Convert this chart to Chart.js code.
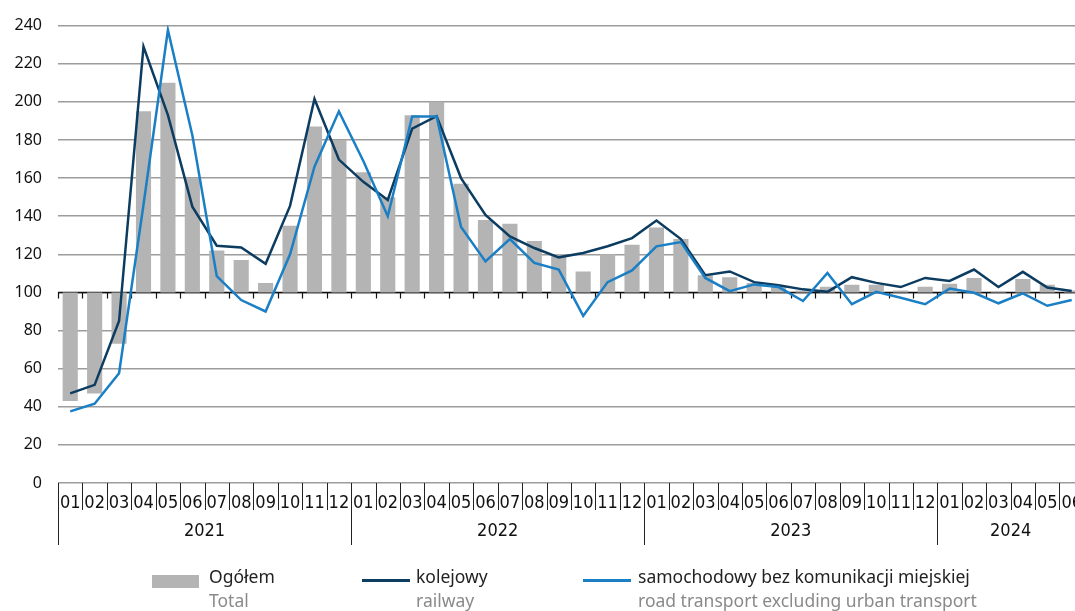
<!DOCTYPE html>
<html>
<head>
<meta charset="utf-8">
<script src="https://cdn.jsdelivr.net/npm/chart.js@4"></script>
<style>
  html, body { margin: 0; padding: 0; background: #fff; overflow: hidden; }
  #wrap { position: relative; width: 1084px; height: 611px; }
  .leg { position: absolute; top: 564px; font-family: "Noto Sans", sans-serif; font-size: 17.5px; line-height: 24px; color: #222; white-space: nowrap; }
  .leg .en { color: #8a8a8a; }
  .sw { position: absolute; }
</style>
</head>
<body>
<div id="wrap">
  <canvas id="chart" width="1084" height="611"></canvas>
  <div class="sw" style="left:152px;top:575px;width:47px;height:13px;background:#b4b4b4"></div>
  <div class="leg" style="left:209px"><div>Ogółem</div><div class="en">Total</div></div>
  <div class="sw" style="left:362px;top:579px;width:48px;height:3px;background:#0d3c61"></div>
  <div class="leg" style="left:416px"><div>kolejowy</div><div class="en">railway</div></div>
  <div class="sw" style="left:583px;top:579px;width:48px;height:3px;background:#1a7fc5"></div>
  <div class="leg" style="left:638px"><div>samochodowy bez komunikacji miejskiej</div><div class="en">road transport excluding urban transport</div></div>
</div>
<script>
const months = ['01','02','03','04','05','06','07','08','09','10','11','12',
  '01','02','03','04','05','06','07','08','09','10','11','12',
  '01','02','03','04','05','06','07','08','09','10','11','12',
  '01','02','03','04','05','06'];
const years = ['2021', '2022', '2023', '2024'];

const ogolem = [43, 47, 73, 195, 210, 160, 122, 117, 105, 135, 187, 180,
  163, 150, 193, 200, 157, 138, 136, 127, 120, 111, 120, 125,
  134, 128, 109, 108, 105, 103, 101, 103, 104, 104, 101, 103,
  104.5, 107.5, 100.4, 107, 104, 101];
const kolejowy = [47, 51.5, 85, 229, 193, 145, 124.5, 123.6, 115, 145.4, 201.5, 169.7,
  158, 148.5, 186, 192.5, 160, 140.7, 129.4, 123.3, 118.4, 120.7, 124.2, 128.5,
  137.7, 128, 109, 111, 105.4, 103.8, 101.6, 100.3, 108, 105, 102.8, 107.6,
  106, 112, 102.8, 110.8, 102.6, 100.8];
const samochodowy = [37.6, 41.6, 57.6, 146, 237.7, 182.5, 108.5, 96, 90, 120, 166, 195,
  169, 140, 192.3, 192.3, 134.3, 116.3, 128, 115.5, 112, 87.7, 105.4, 111.5,
  124.2, 126.4, 107.6, 100.7, 104.2, 102.8, 95.5, 110.2, 93.8, 100.3, 97.2, 93.8,
  102, 99.8, 94.3, 99.5, 93, 96];

const BASE = 100;
const narrow = '"Liberation Sans Narrow", "DejaVu Sans Condensed", sans-serif';

// baseline at 100, month/year separators and year labels
const axisExtras = {
  id: 'axisExtras',
  beforeDatasetsDraw(chart) {
    const { ctx, chartArea, scales: { x, y } } = chart;
    const half = (x.getPixelForValue(1) - x.getPixelForValue(0)) / 2;
    const y100 = y.getPixelForValue(BASE);
    ctx.save();
    ctx.strokeStyle = '#111';
    ctx.lineWidth = 1.5;
    ctx.beginPath();
    ctx.moveTo(chartArea.left, y100);
    ctx.lineTo(chartArea.right, y100);
    ctx.stroke();
    ctx.lineWidth = 1.2;
    ctx.beginPath();
    for (let i = 0; i <= months.length; i++) {
      const px = Math.round(x.getPixelForValue(i) - half) + 0.5;
      ctx.moveTo(px, y100);
      ctx.lineTo(px, y100 + 6);
    }
    ctx.stroke();
    ctx.restore();
  },
  afterDraw(chart) {
    const { ctx, chartArea, scales: { x } } = chart;
    const half = (x.getPixelForValue(1) - x.getPixelForValue(0)) / 2;
    const bottom = chartArea.bottom;
    ctx.save();
    ctx.strokeStyle = '#222';
    ctx.lineWidth = 1;
    ctx.beginPath();
    for (let i = 0; i <= months.length; i++) {
      const px = Math.round(x.getPixelForValue(i) - half) + 0.5;
      const len = (i % 12 === 0) ? 62 : 27;
      ctx.moveTo(px, bottom);
      ctx.lineTo(px, bottom + len);
    }
    ctx.stroke();
    ctx.fillStyle = '#111';
    ctx.font = '18px ' + narrow;
    ctx.textAlign = 'center';
    ctx.textBaseline = 'middle';
    years.forEach((yr, k) => {
      const first = k * 12;
      const last = Math.min(first + 11, months.length - 1);
      const cx = (x.getPixelForValue(first) + x.getPixelForValue(last)) / 2;
      ctx.fillText(yr, cx, bottom + 48);
    });
    ctx.restore();
  }
};

new Chart(document.getElementById('chart'), {
  data: {
    labels: months,
    datasets: [
      {
        type: 'line',
        label: 'kolejowy',
        data: kolejowy,
        borderColor: '#0d3c61',
        borderWidth: 2.5,
        pointRadius: 0,
        tension: 0,
        order: 1
      },
      {
        type: 'line',
        label: 'samochodowy bez komunikacji miejskiej',
        data: samochodowy,
        borderColor: '#1a7fc5',
        borderWidth: 2.5,
        pointRadius: 0,
        tension: 0,
        order: 0
      },
      {
        type: 'bar',
        label: 'Ogółem',
        data: ogolem.map(v => [BASE, v]),
        backgroundColor: '#b4b4b4',
        borderWidth: 0,
        categoryPercentage: 1,
        barPercentage: 0.62,
        order: 2
      }
    ]
  },
  options: {
    responsive: false,
    animation: false,
    layout: { padding: { top: 23, left: 0, right: 0, bottom: 0 } },
    plugins: {
      legend: { display: false },
      tooltip: { enabled: false }
    },
    scales: {
      x: {
        type: 'category',
        offset: true,
        grid: { display: false },
        border: { display: false },
        ticks: {
          autoSkip: false,
          maxRotation: 0,
          minRotation: 0,
          padding: 2,
          color: '#111',
          font: { family: narrow, size: 18 }
        },
        afterFit: s => { s.height = 128; }
      },
      y: {
        min: 0,
        max: 240,
        ticks: {
          stepSize: 20,
          padding: 16,
          color: '#111',
          font: { family: '"Noto Sans", sans-serif', size: 16 }
        },
        grid: { color: '#9c9c9c', lineWidth: 1.5, drawTicks: false },
        border: { display: false },
        afterFit: s => { s.width = 58; }
      }
    }
  },
  plugins: [axisExtras]
});
</script>
</body>
</html>
